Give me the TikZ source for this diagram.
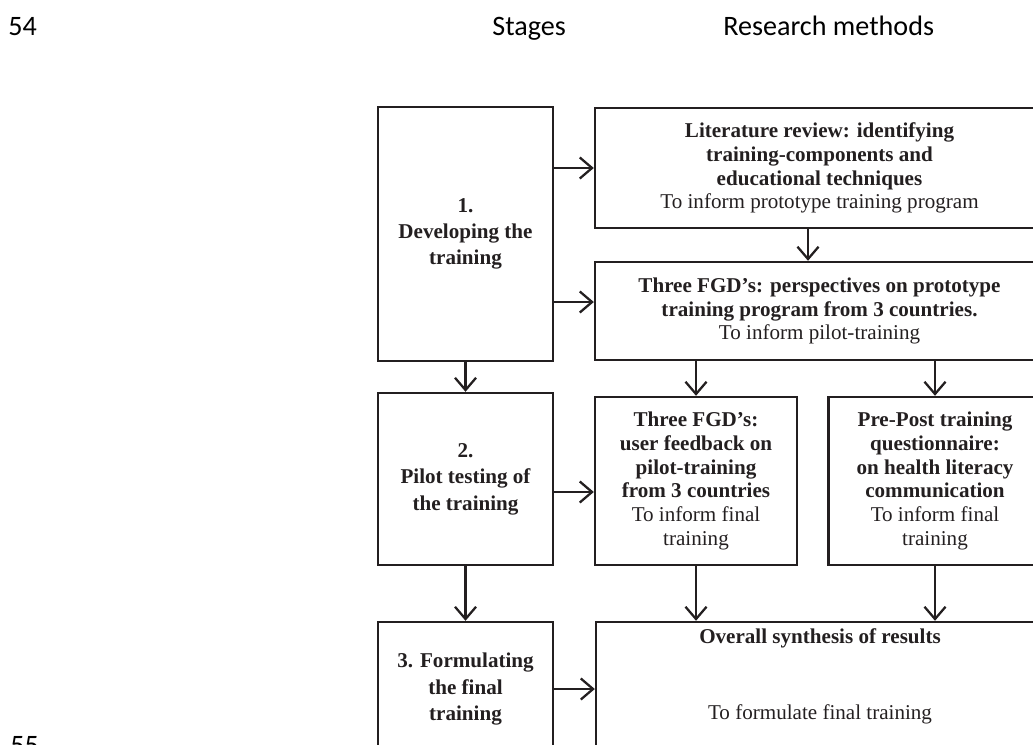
\documentclass[tikz,border=0pt]{standalone}
\usepackage{fontspec}
\setmainfont{Liberation Serif}
\newfontfamily\headingfont{Carlito}
\usetikzlibrary{arrows.meta,positioning}
\definecolor{flowInk}{HTML}{231F20}
\newcommand{\boxfont}{\fontsize{12}{13.6}\selectfont}
\newcommand{\stagefont}{\fontsize{12}{15}\selectfont}

\begin{document}
\begin{tikzpicture}[x=0.02cm,y=-0.02cm,
    stagebox/.style={draw=flowInk,line width=1.4pt,align=center,inner sep=3pt,text=flowInk,font=\stagefont\bfseries},
    methodbox/.style={stagebox,font=\boxfont},
    flow/.style={draw=flowInk,line width=1.3pt,-{Straight Barb[length=7pt,width=12pt]}},
    heading/.style={font=\headingfont\fontsize{16}{19}\selectfont,anchor=base west,inner sep=0pt}]
  \useasboundingbox (0,0) rectangle (1033,744);
  \clip (0,0) rectangle (1033,744);

  % page furniture and column headings
  \node[heading] (lineA) at (8,35) {54};
  \node[heading] (lineB) at (10,754) {55};
  \node[heading] (stagehead) at (492,35) {Stages};
  \node[heading] (methodhead) at (723,35) {Research methods};

  % stages
  \node[stagebox,minimum width=3.5cm,minimum height=5.08cm] (develop) at (465.5,234) {1.\\Developing the\\training};
  \node[stagebox,minimum width=3.5cm,minimum height=3.44cm] (pilot) at (465.5,479) {2.\\Pilot testing of\\the training};
  \node[stagebox,minimum width=3.5cm,minimum height=2.68cm] (final) at (465.5,689) {3. Formulating\\the final\\training};

  % research methods
  \node[methodbox,minimum width=8.98cm,minimum height=2.4cm] (litreview) at (819.5,168)
    {\textbf{Literature review: identifying}\\\textbf{training-components and}\\\textbf{educational techniques}\\To inform prototype training program};
  \node[methodbox,minimum width=8.98cm,minimum height=1.96cm] (fgdproto) at (819.5,311)
    {\textbf{Three FGD’s: perspectives on prototype}\\\textbf{training program from 3 countries.}\\To inform pilot-training};
  \node[methodbox,minimum width=4.04cm,minimum height=3.36cm] (fgdfeed) at (696,481)
    {\textbf{Three FGD’s:}\\\textbf{user feedback on}\\\textbf{pilot-training}\\\textbf{from 3 countries}\\To inform final\\training};
  \node[methodbox,minimum width=4.26cm,minimum height=3.36cm] (prepost) at (935,481)
    {\textbf{Pre-Post training}\\\textbf{questionnaire:}\\\textbf{on health literacy}\\\textbf{communication}\\To inform final\\training};
  \node[methodbox,minimum width=8.96cm,minimum height=2.68cm] (synth) at (820,689) {};
  \node[below=0.15cm of synth.north,inner sep=0pt,font=\boxfont\bfseries,text=flowInk] (synthhead) {Overall synthesis of results};
  \node[below=1.68cm of synth.north,inner sep=0pt,font=\boxfont,text=flowInk] (synthaim) {To formulate final training};

  % connectors
  \draw[flow] (develop.east |- litreview.west) -- (litreview.west);
  \draw[flow] ([yshift=0.18cm]develop.east |- fgdproto.west) -- ([yshift=0.18cm]fgdproto.west);
  \draw[flow] ([xshift=-0.23cm]litreview.south) -- ([xshift=-0.23cm]fgdproto.north);
  \draw[flow] (fgdproto.south -| fgdfeed.north) -- (fgdfeed.north);
  \draw[flow] (fgdproto.south -| prepost.north) -- (prepost.north);
  \draw[flow] (develop) -- (pilot);
  \draw[flow] ([yshift=-0.26cm]pilot.east) -- ([yshift=-0.26cm]pilot.east -| fgdfeed.west);
  \draw[flow] (pilot) -- (final);
  \draw[flow] (fgdfeed.south) -- (fgdfeed.south |- synth.north);
  \draw[flow] (prepost.south) -- (prepost.south |- synth.north);
  \draw[flow] (final) -- (synth);
\end{tikzpicture}
\end{document}
